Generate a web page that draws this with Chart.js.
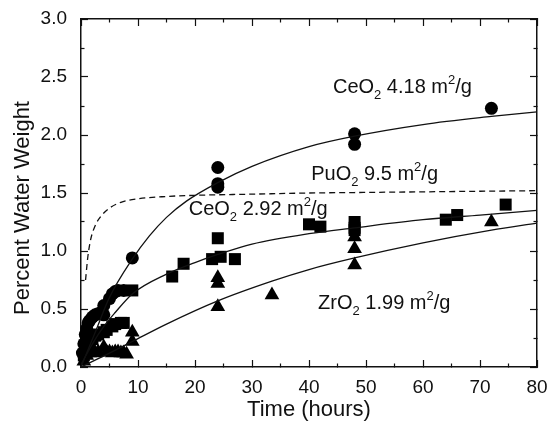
<!DOCTYPE html>
<html lang="en">
<head>
    <meta charset="UTF-8">
    <title>Percent Water Weight vs Time</title>
    <script src="https://cdn.jsdelivr.net/npm/chart.js"></script>
    <style>
        body { margin: 0; background: #fff; }
        canvas { display: block; }
    </style>
</head>
<body>
    <canvas id="myChart" width="549" height="424"></canvas>

    <script>
        // Measured points [hours, % water weight]
        const ceo2HighPts = [
            [0.25, 0.12], [0.5, 0.2], [0.75, 0.28], [1, 0.33], [1.25, 0.38], [1.5, 0.4],
            [2, 0.43], [2.5, 0.45], [3, 0.46], [3.5, 0.47], [4, 0.45], [4, 0.53],
            [5, 0.59], [5.5, 0.63], [6, 0.65], [6.5, 0.66], [7.5, 0.66],
            [9, 0.94], [24, 1.72], [24, 1.58], [24, 1.55], [48, 2.01], [48, 1.92], [72, 2.23]
        ];
        const ceo2LowPts = [
            [0.5, 0.1], [1, 0.15], [1.5, 0.2], [2, 0.24], [2.5, 0.27], [3, 0.28], [4, 0.3],
            [4.5, 0.32], [5.5, 0.35], [6, 0.37], [7, 0.38], [7.5, 0.38], [9, 0.66],
            [16, 0.78], [18, 0.89], [23, 0.93], [24, 1.11], [24.5, 0.95], [27, 0.93],
            [40, 1.23], [42, 1.21], [48, 1.25], [48, 1.2], [48, 1.18],
            [64, 1.27], [66, 1.31], [74.5, 1.4]
        ];
        const zro2Pts = [
            [0.5, 0.05], [1, 0.1], [1.5, 0.12], [2, 0.13], [2.5, 0.12], [3, 0.13], [4, 0.17],
            [4.5, 0.13], [5, 0.13], [5.5, 0.12], [6, 0.13], [6.5, 0.13], [7, 0.12], [7.5, 0.12],
            [8, 0.11], [9, 0.22], [9, 0.3], [24, 0.77], [24, 0.72], [24, 0.52], [33.5, 0.62],
            [48, 1.12], [48, 1.02], [48, 0.88], [72, 1.25]
        ];

        // Fitted curves
        const ceo2HighFit = [
            [0, 0], [2.5, 0.3], [5, 0.6], [9, 0.93], [12, 1.13], [15, 1.29], [18.5, 1.43],
            [24, 1.59], [30, 1.73], [40, 1.9], [48, 1.99], [60, 2.09], [72, 2.16], [80, 2.2]
        ];
        const ceo2LowFit = [
            [0, 0.02], [2, 0.2], [4, 0.35], [6, 0.47], [9, 0.63], [15, 0.8], [20, 0.9],
            [24, 0.97], [30, 1.06], [40, 1.15], [48, 1.2], [60, 1.27], [70, 1.31], [80, 1.35]
        ];
        const zro2Fit = [
            [0, 0], [5, 0.12], [9, 0.22], [15, 0.37], [24, 0.57], [33.5, 0.74], [40, 0.84],
            [48, 0.94], [60, 1.07], [72, 1.18], [80, 1.24]
        ];
        const puo2Fit = [
            [0.8, 0.75], [1.2, 0.95], [1.7, 1.1], [2.5, 1.22], [3.5, 1.3], [5, 1.37], [7, 1.42],
            [10, 1.45], [15, 1.47], [20, 1.48], [30, 1.49], [40, 1.5], [50, 1.505],
            [60, 1.51], [70, 1.515], [80, 1.52]
        ];

        // Curve labels: [x, y, parts] where parts are [text, 'n' | 'sub' | 'sup']
        const curveLabels = [
            [44.2, 2.41, [['CeO', 'n'], ['2', 'sub'], [' 4.18 m', 'n'], ['2', 'sup'], ['/g', 'n']]],
            [40.4, 1.66, [['PuO', 'n'], ['2', 'sub'], [' 9.5 m', 'n'], ['2', 'sup'], ['/g', 'n']]],
            [18.9, 1.36, [['CeO', 'n'], ['2', 'sub'], [' 2.92 m', 'n'], ['2', 'sup'], ['/g', 'n']]],
            [41.6, 0.55, [['ZrO', 'n'], ['2', 'sub'], [' 1.99 m', 'n'], ['2', 'sup'], ['/g', 'n']]]
        ];

        const toXY = arr => arr.map(p => ({ x: p[0], y: p[1] }));
        const FONT = '"Liberation Sans", Arial, sans-serif';
        const INK = '#111';

        // text layer: curve labels and rotated y title
        const textPlugin = {
            id: 'texts',
            afterDraw(chart) {
                const c = chart.ctx;
                const xs = chart.scales.x;
                const ys = chart.scales.y;
                c.save();
                c.fillStyle = INK;
                c.textBaseline = 'middle';
                c.textAlign = 'left';
                curveLabels.forEach(([lx, ly, parts]) => {
                    let px = xs.getPixelForValue(lx);
                    const py = ys.getPixelForValue(ly);
                    parts.forEach(([t, kind]) => {
                        let dy = 0;
                        if (kind === 'n') c.font = '20px ' + FONT;
                        else {
                            c.font = '13px ' + FONT;
                            dy = kind === 'sub' ? 8 : -7;
                        }
                        c.fillText(t, px, py + dy);
                        px += c.measureText(t).width;
                    });
                });

                c.font = '22px ' + FONT;
                c.textAlign = 'center';
                c.translate(23, 208);
                c.rotate(-Math.PI / 2);
                c.fillText('Percent Water Weight', 0, 0);
                c.restore();
            }
        };

        // inward ticks: majors 7px, minors clipped to 4px with a dash
        const isMajorX = ctx => ctx.tick && ctx.tick.value % 10 === 0;
        const isMajorY = ctx => ctx.tick && Math.abs(ctx.tick.value * 2 - Math.round(ctx.tick.value * 2)) < 1e-6;
        // outerStart: the tick line starts at the axis (bottom/right); else it starts inside (top/left)
        const tickGrid = (isMajor, outerStart) => ({
            display: true, drawOnChartArea: false, drawTicks: true,
            tickLength: -7, tickColor: INK, tickWidth: 1.2,
            tickBorderDash: ctx => isMajor(ctx) ? [] : [4, 100],
            tickBorderDashOffset: ctx => (isMajor(ctx) || outerStart) ? 0 : 100.5
        });
        const frameBorder = { display: true, color: INK, width: 1.5 };

        const lineStyle = {
            showLine: true, pointRadius: 0, borderColor: INK, borderWidth: 1.3,
            cubicInterpolationMode: 'monotone', fill: false
        };
        const markStyle = {
            showLine: false, backgroundColor: '#000', borderColor: '#000', borderWidth: 0, clip: false
        };

        const myChart = new Chart(document.getElementById('myChart'), {
            type: 'scatter',
            data: {
                datasets: [
                    { ...lineStyle, label: 'CeO2 4.18 fit', data: toXY(ceo2HighFit) },
                    { ...lineStyle, label: 'CeO2 2.92 fit', data: toXY(ceo2LowFit) },
                    { ...lineStyle, label: 'ZrO2 1.99 fit', data: toXY(zro2Fit) },
                    { ...lineStyle, label: 'PuO2 9.5 fit', data: toXY(puo2Fit), borderDash: [6, 4] },
                    { ...markStyle, label: 'CeO2 4.18', data: toXY(ceo2HighPts), pointStyle: 'circle', pointRadius: 6.5 },
                    { ...markStyle, label: 'CeO2 2.92', data: toXY(ceo2LowPts), pointStyle: 'rect', pointRadius: 8.5 },
                    { ...markStyle, label: 'ZrO2 1.99', data: toXY(zro2Pts), pointStyle: 'triangle', pointRadius: 8.5 }
                ]
            },
            options: {
                responsive: false,
                animation: false,
                layout: { padding: { left: 0, top: 19, right: 12, bottom: 0 } },
                plugins: {
                    legend: { display: false },
                    tooltip: { enabled: false }
                },
                scales: {
                    x: {
                        type: 'linear', position: 'bottom', min: 0, max: 80,
                        grid: tickGrid(isMajorX, true),
                        border: frameBorder,
                        ticks: {
                            stepSize: 5, autoSkip: false, maxRotation: 0, color: INK, padding: 16,
                            font: { family: FONT, size: 19 },
                            callback: v => v % 10 === 0 ? String(v) : ''
                        },
                        title: {
                            display: true, text: 'Time (hours)', color: INK,
                            font: { family: FONT, size: 22 }, padding: { top: 0, bottom: 1 }
                        },
                        afterFit(scale) {
                            scale.height = 57;
                            scale.paddingLeft = 0;
                            scale.paddingRight = 0;
                        }
                    },
                    x2: {
                        type: 'linear', position: 'top', min: 0, max: 80,
                        grid: tickGrid(isMajorX, false),
                        border: frameBorder,
                        ticks: { display: false, stepSize: 5, autoSkip: false },
                        afterFit(scale) { scale.height = 0; }
                    },
                    y: {
                        type: 'linear', position: 'left', min: 0, max: 3,
                        grid: tickGrid(isMajorY, false),
                        border: frameBorder,
                        ticks: {
                            stepSize: 0.25, autoSkip: false, color: INK, padding: 21,
                            font: { family: FONT, size: 19 },
                            callback: v => Math.abs(v * 2 - Math.round(v * 2)) < 1e-6 ? v.toFixed(1) : ''
                        },
                        afterFit(scale) {
                            scale.width = 81;
                            scale.paddingTop = 0;
                            scale.paddingBottom = 0;
                        }
                    },
                    y2: {
                        type: 'linear', position: 'right', min: 0, max: 3,
                        grid: tickGrid(isMajorY, true),
                        border: frameBorder,
                        ticks: { display: false, stepSize: 0.25, autoSkip: false },
                        afterFit(scale) { scale.width = 0; }
                    }
                }
            },
            plugins: [textPlugin]
        });
    </script>
</body>
</html>
